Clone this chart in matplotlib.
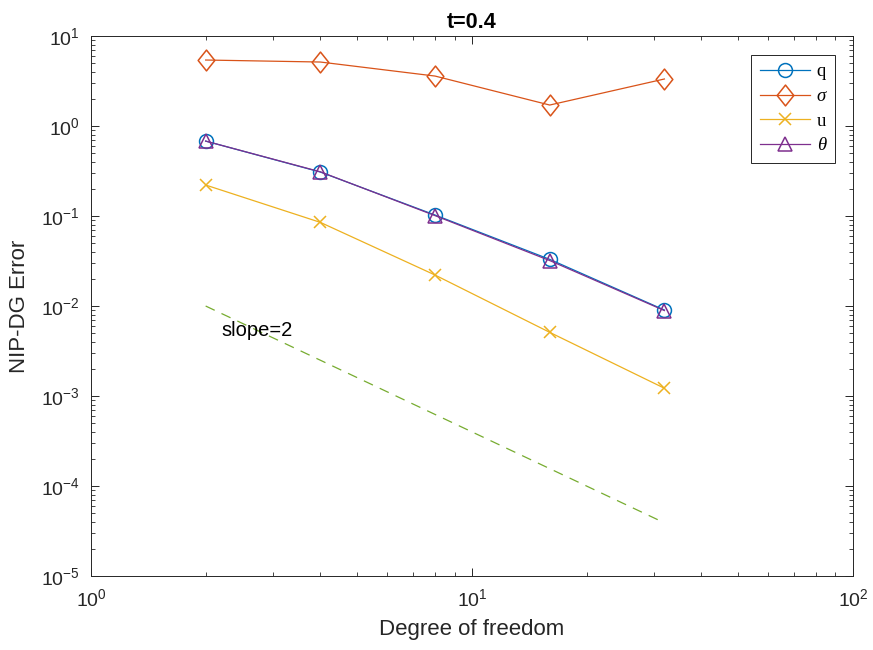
import math
import matplotlib
matplotlib.use("Agg")
import matplotlib.pyplot as plt
from matplotlib.ticker import LogLocator, NullFormatter, FuncFormatter
from matplotlib.path import Path

plt.rcParams['font.family'] = ['Liberation Sans', 'DejaVu Sans']
plt.rcParams['mathtext.fontset'] = 'custom'
plt.rcParams['mathtext.rm'] = 'Liberation Sans'
plt.rcParams['mathtext.it'] = 'Liberation Sans:italic'

dof = [2, 4, 8, 16, 32]
err_q = [0.68, 0.308, 0.1026, 0.033, 0.00903]
err_sigma = [5.41, 5.14, 3.59, 1.71, 3.33]
err_u = [0.221, 0.085, 0.0221, 0.0051, 0.00122]
err_theta = [0.68, 0.31, 0.101, 0.032, 0.0089]
slope_x = [2, 32]
slope_y = [0.01, 3.9e-5]
labels = ['q', 'σ', 'u', 'θ']
xlim = (1, 100)
ylim = (1e-5, 10)

c_blue = '#0072BD'
c_orange = '#D95319'
c_yellow = '#EDB120'
c_purple = '#7E2F8E'
c_green = '#77AC30'

diamond = Path([(0, 1), (0.8, 0), (0, -1), (-0.8, 0), (0, 1)],
               [Path.MOVETO, Path.LINETO, Path.LINETO, Path.LINETO, Path.CLOSEPOLY])

fig = plt.figure(figsize=(8.73, 6.5), dpi=100)
ax = fig.add_axes([0.1042, 0.1138, 0.8728, 0.8308])

lw = 0.9
ax.loglog(dof, err_q, '-o', color=c_blue, lw=lw, ms=10, mfc='none', mew=1.1, label=labels[0])
ax.loglog(dof, err_sigma, '-', marker=diamond, color=c_orange, lw=lw, ms=15, mfc='none', mew=1.1, label=labels[1])
ax.loglog(dof, err_u, '-x', color=c_yellow, lw=lw, ms=9, mew=1.1, label=labels[2])
ax.loglog(dof, err_theta, '-^', color=c_purple, lw=lw, ms=10, mfc='none', mew=1.1, label=labels[3])
ax.loglog(slope_x, slope_y, '--', color=c_green, lw=lw, dashes=(8, 6))

ax.text(2.2, 0.0053, 'slope=2', fontsize=14.5, va='center', ha='left')

ax.set_xlim(*xlim)
ax.set_ylim(*ylim)

def fmt(v, pos):
    e = int(round(math.log10(v)))
    return r'$\mathdefault{10^{%d}}$' % e

xmaj = [t for t in LogLocator(base=10).tick_values(*xlim) if xlim[0] <= t <= xlim[1] * 1.0001]
ymaj = [t for t in LogLocator(base=10, numticks=10).tick_values(*ylim) if ylim[0] * 0.9999 <= t <= ylim[1] * 1.0001]
xmin_t = [t for t in LogLocator(base=10, subs=range(2, 10), numticks=20).tick_values(*xlim) if xlim[0] < t < xlim[1]]
ymin_t = [t for t in LogLocator(base=10, subs=range(2, 10), numticks=20).tick_values(*ylim) if ylim[0] < t < ylim[1]]
ax.set_xticks(xmaj)
ax.set_yticks(ymaj)
ax.set_xticks(xmin_t, minor=True)
ax.set_yticks(ymin_t, minor=True)
ax.xaxis.set_major_formatter(FuncFormatter(fmt))
ax.yaxis.set_major_formatter(FuncFormatter(fmt))
ax.xaxis.set_minor_formatter(NullFormatter())
ax.yaxis.set_minor_formatter(NullFormatter())
ax.set_xlim(*xlim)
ax.set_ylim(*ylim)

ax.tick_params(which='both', direction='in', top=True, right=True, labelsize=14, color='#262626', labelcolor='#262626')
ax.tick_params(which='major', length=6, width=0.7)
ax.tick_params(which='minor', length=3, width=0.6)
ax.tick_params(axis='x', pad=9)
ax.tick_params(axis='y', pad=8)
for s in ax.spines.values():
    s.set_linewidth(0.7)
    s.set_color('#262626')

ax.set_xlabel('Degree of freedom', fontsize=16, color='#262626', labelpad=6)
ax.set_ylabel('NIP-DG Error', fontsize=16, color='#262626', labelpad=8)
ax.set_title('t=0.4', fontsize=15.5, fontweight='bold', pad=6)

leg = ax.legend(loc='upper right', bbox_to_anchor=(0.976, 0.965), borderaxespad=0,
                prop={'family': 'Liberation Serif', 'size': 13.5},
                fancybox=False, edgecolor='#262626', framealpha=1, handlelength=2.7,
                borderpad=0.45, labelspacing=0.4, handletextpad=0.35)
leg.get_frame().set_linewidth(0.7)
for i in (1, 3):
    leg.get_texts()[i].set_fontstyle('italic')

fig.savefig('out.png', dpi=100)
